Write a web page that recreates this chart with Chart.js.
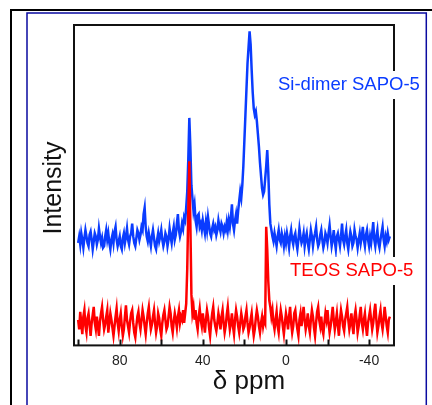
<!DOCTYPE html>
<html>
<head>
<meta charset="utf-8">
<script src="https://cdn.jsdelivr.net/npm/chart.js@4.4.1/dist/chart.umd.min.js"></script>
<style>
  body { margin: 0; background: #fff; }
  canvas { display: block; }
</style>
</head>
<body>
<canvas id="myChart" width="432" height="405"></canvas>
<script>
// chemical shift, ppm (left to right), 10 ppm per row
const ppm = [
    100, 99.5, 99, 98.5, 98, 97.5, 97, 96.5, 96, 95.5, 95, 94.5, 94, 93.5, 93, 92.5, 92, 91.5, 91, 90.5,
    90, 89.5, 89, 88.5, 88, 87.5, 87, 86.5, 86, 85.5, 85, 84.5, 84, 83.5, 83, 82.5, 82, 81.5, 81, 80.5,
    80, 79.5, 79, 78.5, 78, 77.5, 77, 76.5, 76, 75.5, 75, 74.5, 74, 73.5, 73, 72.5, 72, 71.5, 71, 70.5,
    70, 69.5, 69, 68.5, 68, 67.5, 67, 66.5, 66, 65.5, 65, 64.5, 64, 63.5, 63, 62.5, 62, 61.5, 61, 60.5,
    60, 59.5, 59, 58.5, 58, 57.5, 57, 56.5, 56, 55.5, 55, 54.5, 54, 53.5, 53, 52.5, 52, 51.5, 51, 50.5,
    50, 49.5, 49, 48.5, 48, 47.5, 47, 46.5, 46, 45.5, 45, 44.5, 44, 43.5, 43, 42.5, 42, 41.5, 41, 40.5,
    40, 39.5, 39, 38.5, 38, 37.5, 37, 36.5, 36, 35.5, 35, 34.5, 34, 33.5, 33, 32.5, 32, 31.5, 31, 30.5,
    30, 29.5, 29, 28.5, 28, 27.5, 27, 26.5, 26, 25.5, 25, 24.5, 24, 23.5, 23, 22.5, 22, 21.5, 21, 20.5,
    20, 19.5, 19, 18.5, 18, 17.5, 17, 16.5, 16, 15.5, 15, 14.5, 14, 13.5, 13, 12.5, 12, 11.5, 11, 10.5,
    10, 9.5, 9, 8.5, 8, 7.5, 7, 6.5, 6, 5.5, 5, 4.5, 4, 3.5, 3, 2.5, 2, 1.5, 1, 0.5,
    0, -0.5, -1, -1.5, -2, -2.5, -3, -3.5, -4, -4.5, -5, -5.5, -6, -6.5, -7, -7.5, -8, -8.5, -9, -9.5,
    -10, -10.5, -11, -11.5, -12, -12.5, -13, -13.5, -14, -14.5, -15, -15.5, -16, -16.5, -17, -17.5, -18, -18.5, -19, -19.5,
    -20, -20.5, -21, -21.5, -22, -22.5, -23, -23.5, -24, -24.5, -25, -25.5, -26, -26.5, -27, -27.5, -28, -28.5, -29, -29.5,
    -30, -30.5, -31, -31.5, -32, -32.5, -33, -33.5, -34, -34.5, -35, -35.5, -36, -36.5, -37, -37.5, -38, -38.5, -39, -39.5,
    -40, -40.5, -41, -41.5, -42, -42.5, -43, -43.5, -44, -44.5, -45, -45.5, -46, -46.5, -47, -47.5, -48, -48.5, -49, -49.5,
    -50];

// Si-dimer SAPO-5 (offset upward)
const siDimer = [
    32, 34, 31.5, 35, 33, 30.5, 33.5, 36, 34, 32, 31, 34.5, 35.5, 33, 30, 32.5, 35, 34, 31.5, 33,
    36.5, 34, 32, 33.5, 30.5, 31, 34, 36, 33, 35, 32, 30, 33, 34.5, 32, 35.5, 37, 33, 31, 32.5,
    34, 31, 30, 33.5, 35, 32, 34, 36.5, 33, 31.5, 34, 35, 38, 34, 32, 31, 33.5, 36, 35, 33,
    34.5, 37, 36, 41, 43, 37, 34, 32.5, 35, 33, 31, 34, 36, 33.5, 31, 30, 33, 35, 32.5, 34,
    36, 33, 31, 32.5, 35, 34, 31, 33, 36.5, 34, 32, 35, 37, 33, 34.5, 38, 41, 36, 34, 35.5,
    38, 36.5, 40, 39, 43, 48, 58, 71, 62, 50, 46, 42, 44, 39, 37, 40.5, 41, 37, 38, 36,
    39, 37, 35, 38.5, 36, 40, 37.5, 35, 34, 36.5, 38, 36, 37, 34.5, 36, 39, 37, 35.5, 38, 37,
    35, 37, 36, 38.5, 36, 39, 37, 40, 44, 38, 36, 39, 41, 38, 42, 45, 48, 46, 50, 56,
    64, 72, 80, 88, 93, 98, 94, 86, 79, 74, 72, 73, 70, 66, 62, 57, 53, 49, 47, 48,
    52, 56, 61, 54, 44, 38, 36, 34, 32.5, 35, 33, 31, 34, 36, 33, 32, 35, 33.5, 31, 34,
    32, 35, 33, 30.5, 34, 36, 33, 31.5, 34, 35, 32, 30, 33, 36.5, 34, 32, 33, 35, 31, 33.5,
    35, 32, 30, 33, 36, 34, 31, 33.5, 35, 37, 33, 31, 32, 34.5, 36, 33, 30.5, 32, 35, 34,
    32, 35, 37.5, 34, 31, 33, 36, 32.5, 30, 34, 35, 33, 31, 34, 38, 33, 31.5, 34, 36, 32,
    30, 33, 35.5, 34, 31, 32, 36, 34, 33, 30.5, 33, 35, 32, 34, 37, 33, 31, 34.5, 36, 33,
    31, 34, 32, 35, 38.5, 33, 31, 34, 36, 32, 30.5, 33, 35, 37, 33, 31, 34, 32.5, 35, 33,
    34];

// TEOS SAPO-5
const teos = [
    8, 5, 10.5, 7, 3.5, 9, 11, 6, 4, 8.5, 10, 6.5, 3, 7, 9.5, 12, 7, 5, 9, 6,
    3, 7.5, 10, 12, 8, 5, 6.5, 9, 11, 4, 7, 10, 8, 5.5, 3, 6, 9, 11.5, 7, 4.5,
    8, 10, 6, 3, 5, 9, 12.5, 8, 6, 4, 7.5, 10, 11, 7, 4, 2.5, 6, 9, 10.5, 7,
    5, 8, 11, 9, 6, 3.5, 7, 10, 12, 8, 5, 6.5, 9, 11, 7, 4, 6, 10, 8.5, 5,
    3, 7, 9.5, 11, 8, 5, 6, 9, 12, 10, 6, 4, 7.5, 10, 8, 5.5, 9, 11, 7, 9,
    8, 11, 7, 10, 13, 24, 42, 57.5, 38, 16, 10, 12, 8, 11, 7, 5, 9, 11.5, 8, 6,
    10, 7, 4, 8, 11, 9, 5.5, 3, 7, 10, 12, 8, 6, 4.5, 7, 10, 8, 5, 9, 11,
    7, 4, 6, 9.5, 12, 8, 5, 7, 10, 6, 3.5, 8, 11, 9, 6, 4, 7, 10, 8, 5,
    6, 9, 11, 7, 4, 5.5, 8, 10, 6, 3, 5, 8.5, 11, 9, 6, 4, 7, 9, 6, 8,
    7, 37, 30, 20, 14, 12, 9, 11, 7, 5, 8, 10.5, 6, 4, 8, 11, 9, 6, 3.5, 7,
    10, 8, 5, 9, 12, 7, 4, 6, 10, 11, 7.5, 5, 3, 8, 10, 6, 9, 12, 8, 5,
    7, 10, 6, 4, 8, 11, 9, 5.5, 3, 7, 10.5, 12, 8, 6, 9, 5, 3.5, 7, 10, 8,
    11, 7, 4, 6, 9, 12, 8, 5, 7.5, 10, 6, 3, 8, 11, 9, 6, 4.5, 8, 10, 12,
    8, 5, 7, 10, 6, 3.5, 9, 11, 8, 4, 6, 9.5, 12, 7, 5, 8, 10, 6, 3, 7,
    9, 11, 8, 5, 7, 10.5, 13, 8, 4, 6, 9, 11, 7, 5, 8, 12, 9, 6, 4, 8,
    9];

const xTicks = [100, 80, 60, 40, 20, 0, -20, -40];
const xLabels = [80, 40, 0, -40];

const blue = "#0a3cff";
const red = "#ff0000";
const font = "'Liberation Sans', Arial, sans-serif";

function toPoints(ys) {
    return ppm.map(function (x, i) { return { x: x, y: ys[i] }; });
}

// page frame, plot box, inner ticks and text labels
const decor = {
    id: 'decor',
    beforeDraw: function (chart) {
        const ctx = chart.ctx;
        ctx.save();
        ctx.fillStyle = "#fff";
        ctx.fillRect(0, 0, chart.width, chart.height);
        ctx.strokeStyle = "#000";
        ctx.lineWidth = 2;
        ctx.beginPath();
        ctx.moveTo(11, 405);
        ctx.lineTo(11, 10);
        ctx.lineTo(432, 10);
        ctx.stroke();
        ctx.strokeStyle = "#0a0aa0";
        ctx.lineWidth = 1.5;
        ctx.beginPath();
        ctx.moveTo(27, 410);
        ctx.lineTo(27, 13);
        ctx.lineTo(426.3, 13);
        ctx.lineTo(426.3, 410);
        ctx.stroke();
        ctx.restore();
    },
    afterDraw: function (chart) {
        const ctx = chart.ctx;
        const a = chart.chartArea;
        const xs = chart.scales.x;
        ctx.save();
        ctx.strokeStyle = "#111";
        ctx.lineWidth = 2;
        ctx.strokeRect(a.left, a.top, a.right - a.left, a.bottom - a.top);
        ctx.beginPath();
        xTicks.forEach(function (v) {
            const px = Math.round(xs.getPixelForValue(v)) + 0.5;
            ctx.moveTo(px, a.bottom);
            ctx.lineTo(px, a.bottom - 6);
        });
        ctx.stroke();

        // series labels sit on white boxes that cut the right border
        ctx.font = "18.5px " + font;
        ctx.textBaseline = "middle";
        ctx.textAlign = "left";
        [["Si-dimer SAPO-5", 278, 85, blue], ["TEOS SAPO-5", 290, 271, red]].forEach(function (t) {
            const w = ctx.measureText(t[0]).width;
            ctx.fillStyle = "#fff";
            ctx.fillRect(t[1] - 2, t[2] - 14, w + 4, 28);
            ctx.fillStyle = t[3];
            ctx.fillText(t[0], t[1], t[2]);
        });

        // axis titles
        ctx.fillStyle = "#111";
        ctx.textAlign = "center";
        ctx.font = "26px " + font;
        ctx.fillText("δ ppm", 249, 382);
        ctx.translate(54, 188);
        ctx.rotate(-Math.PI / 2);
        ctx.font = "25px " + font;
        ctx.fillText("Intensity", 0, 0);
        ctx.restore();
    }
};

new Chart("myChart", {
    type: "line",
    data: {
        datasets: [{
            label: "Si-dimer SAPO-5",
            data: toPoints(siDimer),
            borderColor: blue,
            borderWidth: 2.5,
            pointRadius: 0,
            tension: 0,
            order: 1
        }, {
            label: "TEOS SAPO-5",
            data: toPoints(teos),
            borderColor: red,
            borderWidth: 2.5,
            pointRadius: 0,
            tension: 0,
            order: 0
        }]
    },
    options: {
        responsive: false,
        animation: false,
        devicePixelRatio: 1,
        layout: { padding: { left: 74, top: 25, right: 38, bottom: 27.6 } },
        plugins: {
            legend: { display: false },
            tooltip: { enabled: false }
        },
        scales: {
            x: {
                type: "linear",
                reverse: true,
                min: -52,
                max: 102,
                afterBuildTicks: function (axis) {
                    axis.ticks = axis.ticks.filter(function (t) { return t.value % 20 === 0; });
                },
                ticks: {
                    stepSize: 20,
                    includeBounds: false,
                    autoSkip: false,
                    maxRotation: 0,
                    padding: 7.6,
                    color: "#222",
                    font: { family: font, size: 14 },
                    callback: function (v) { return xLabels.indexOf(v) >= 0 ? v : ""; }
                },
                grid: { display: false, drawTicks: false },
                border: { display: false }
            },
            y: {
                display: false,
                min: 0,
                max: 100
            }
        }
    },
    plugins: [decor]
});
</script>
</body>
</html>
